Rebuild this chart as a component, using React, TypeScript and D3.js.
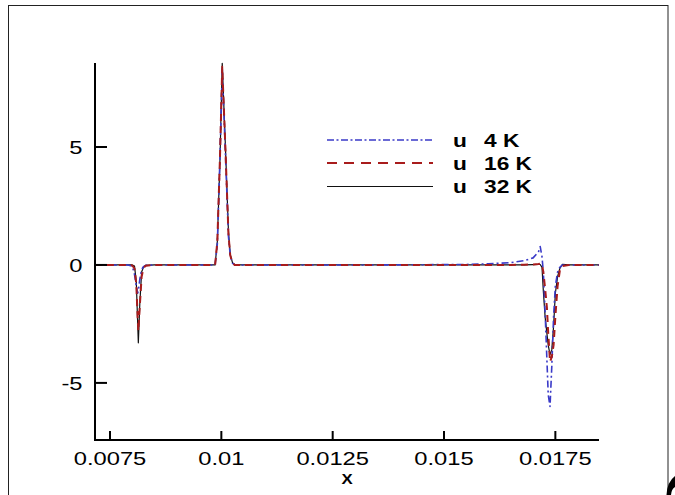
import React from "react";
import * as d3 from "d3";

const xValues = [0.00716, 0.0079, 0.008, 0.00805, 0.00809, 0.00812, 0.008136, 0.00817, 0.00821, 0.00825, 0.0083, 0.0085,
  0.00986, 0.00991, 0.00997, 0.01002, 0.01009, 0.01016, 0.0102, 0.01025, 0.0103, 0.0105, 0.0135,
  0.0155, 0.016, 0.0165, 0.0168, 0.017, 0.01712, 0.01716, 0.0172, 0.01723, 0.01727, 0.01731, 0.01734, 0.01738,
  0.01742, 0.01746, 0.0175, 0.01755, 0.0176, 0.01766, 0.0178, 0.01848];

const u4K = [0, 0, -0.05, -0.4, -0.9, -1.2, -1.1, -0.6, -0.2, -0.07, -0.02, 0,
  0, 0.9, 4.6, 8.3, 4.8, 1.2, 0.4, 0.08, 0, 0, 0,
  0.02, 0.05, 0.1, 0.18, 0.3, 0.55, 0.78, 0.35, -0.3, -2.0, -4.0, -5.5, -6.0,
  -4.3, -2.2, -0.9, -0.3, -0.1, 0, 0, 0];

const u16K = [0, 0, -0.02, -0.15, -0.8, -2.2, -2.8, -1.7, -0.5, -0.15, -0.03, 0,
  0, 1.0, 4.6, 8.4, 5.0, 1.3, 0.4, 0.1, 0, 0, 0,
  0, 0, 0, 0.01, 0.02, 0.04, 0.05, 0.02, -0.3, -1.0, -1.8, -2.9, -4.1,
  -3.9, -3.4, -2.2, -0.9, -0.25, -0.05, 0, 0];

const u32K = [0, 0, 0, -0.05, -0.7, -2.4, -3.3, -1.6, -0.3, -0.1, -0.02, 0,
  0, 1.0, 4.5, 8.55, 5.1, 1.4, 0.45, 0.1, 0, 0, 0,
  0, 0, 0, 0, 0.01, 0.02, 0.02, -0.1, -1.1, -2.2, -2.9, -3.4, -3.8,
  -3.6, -2.6, -1.2, -0.5, -0.15, 0.03, 0, 0];

const xTicks = [0.0075, 0.01, 0.0125, 0.015, 0.0175];
const xTickLabels = ["0.0075", "0.01", "0.0125", "0.015", "0.0175"];
const yTicks = [5, 0, -5];
const yTickLabels = ["5", "0", "-5"];
const legendNames = ["4 K", "16 K", "32 K"];

const FONT = "'Liberation Sans', Arial, Helvetica, sans-serif";

const SText = ({ x, y, sx = 1.32, anchor = "start", size = 18, weight = "normal", children }: any) => (
  <text
    transform={`translate(${x},${y}) scale(${sx},1)`}
    textAnchor={anchor}
    fontSize={size}
    fontWeight={weight}
    fontFamily={FONT}
    fill="#000"
  >
    {children}
  </text>
);

export default function App() {
  const left = 95, right = 599, top = 63, bottom = 440;
  const x = d3.scaleLinear().domain([0.007163, 0.01848]).range([left, right]);
  const y = d3.scaleLinear().domain([-7.42, 8.56]).range([bottom, top]);

  const mk = (vals: number[]) =>
    d3.line<number>().x((_, i) => x(xValues[i])).y((v) => y(v))(vals) || "";

  const series = [
    { name: legendNames[2], vals: u32K, stroke: "#111", width: 1.2, dash: "none" },
    { name: legendNames[0], vals: u4K, stroke: "#3a3ac8", width: 1.6, dash: "7,3,2,3" },
    { name: legendNames[1], vals: u16K, stroke: "#a81c1c", width: 2, dash: "7,5" },
  ];
  const legendOrder = [series[1], series[2], series[0]];
  const legendY = [140, 163, 186.5];

  return (
    <svg width={675} height={495} style={{ position: "absolute", left: 0, top: 0, background: "#fff" }}>
      <rect x={0} y={0} width={675} height={495} fill="#fff" />
      <rect x={8.5} y={5.5} width={659.5} height={500} fill="none" stroke="#222" strokeWidth={1} />

      {series.map((s) => (
        <path key={s.name} d={mk(s.vals)} fill="none" stroke={s.stroke} strokeWidth={s.width}
          strokeDasharray={s.dash} strokeLinejoin="round" />
      ))}

      {/* axes */}
      <line x1={left} y1={top} x2={left} y2={bottom + 1} stroke="#000" strokeWidth={2} />
      <line x1={left - 1} y1={bottom} x2={right} y2={bottom} stroke="#000" strokeWidth={2} />
      {yTicks.map((t, i) => (
        <g key={"y" + t}>
          <line x1={left} x2={left + 12} y1={y(t)} y2={y(t)} stroke="#000" strokeWidth={2} />
          <SText x={82.5} y={y(t) + 7} anchor="end">{yTickLabels[i]}</SText>
        </g>
      ))}
      {xTicks.map((t, i) => (
        <g key={"x" + t}>
          <line x1={x(t)} x2={x(t)} y1={bottom} y2={bottom - 9} stroke="#000" strokeWidth={2} />
          <SText x={x(t)} y={464.5} anchor="middle">{xTickLabels[i]}</SText>
        </g>
      ))}
      <SText x={(left + right) / 2} y={484} anchor="middle" size={14} weight="bold" sx={1.2}>X</SText>

      {/* legend */}
      {legendOrder.map((s, i) => (
        <g key={"lg" + s.name}>
          <line x1={327} x2={433} y1={legendY[i]} y2={legendY[i]} stroke={s.stroke}
            strokeWidth={s.name === "32 K" ? 1.2 : s.width} strokeDasharray={s.name === "4 K" ? "7,2.5,2,2.5" : s.name === "16 K" ? "10,7" : "none"} />
          <SText x={453} y={legendY[i] + 6.5} size={17.5} weight="bold" sx={1.3}>u</SText>
          <SText x={484} y={legendY[i] + 6.5} size={17.5} weight="bold" sx={1.3}>{s.name}</SText>
        </g>
      ))}

      {/* fragment of a neighbouring glyph at the lower right corner */}
      <path d="M666.5,495 Q667,482 675,476 L675,487 Q671.5,489 671,495 Z" fill="#000" />
    </svg>
  );
}
